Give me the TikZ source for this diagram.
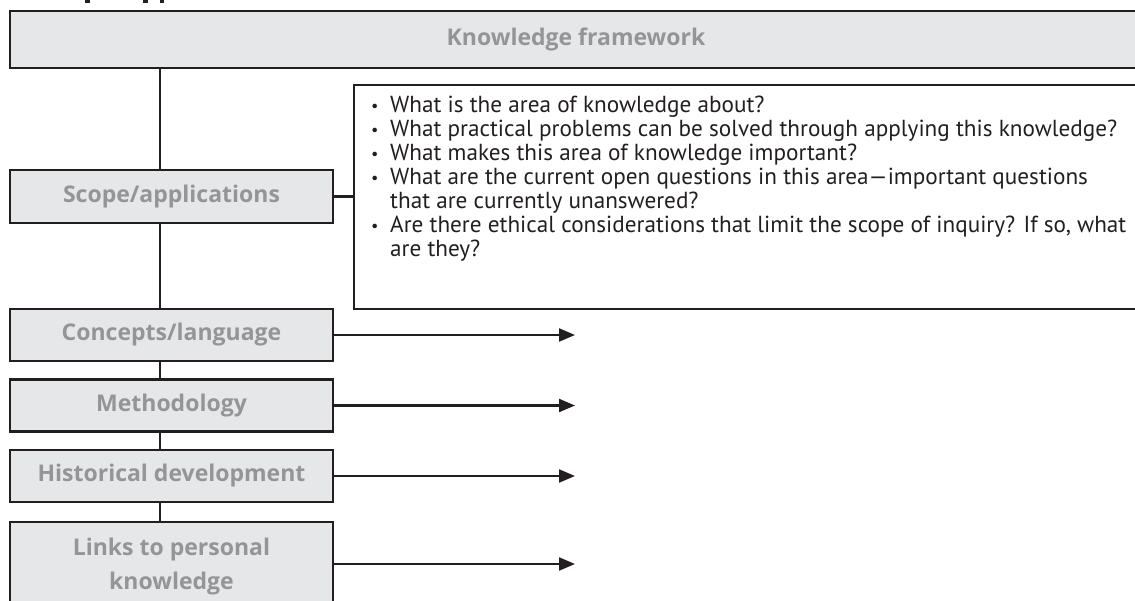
\documentclass[tikz,border=0pt]{standalone}
\usepackage{fontspec}
\setmainfont{PT Sans}
\newfontfamily\labelfont{Open Sans}
\usetikzlibrary{arrows.meta}
\definecolor{boxfill}{HTML}{E6E7E8}
\definecolor{labelgray}{HTML}{939598}
\definecolor{ink}{HTML}{231F20}
\tikzset{
  graybox/.style={draw=ink, line width=2.4pt, fill=boxfill, text=labelgray,
    font=\labelfont\fontsize{23}{34}\selectfont\bfseries, align=center, inner sep=0pt},
  lowbox/.style={graybox, minimum width=323pt, minimum height=52pt},
  link/.style={draw=ink, line width=2.4pt},
  arrowline/.style={draw=ink, line width=2.2pt, -{Triangle[length=16pt,width=13pt]}},
  qframe/.style={draw=ink, line width=2.4pt, fill=white, inner sep=0pt}
}
\newcommand{\qb}{\makebox[19pt][l]{\raisebox{1pt}{\scalebox{0.7}{•}}}}
\begin{document}
\begin{tikzpicture}[x=1pt,y=-1pt]
\useasboundingbox (0,0) rectangle (1135,601);
\clip (0,0) rectangle (1135,601);

% cropped title descenders
\fill[ink] (85,0) rectangle (89.5,3);
\fill[ink] (143,0) rectangle (147.5,3);
\fill[ink] (159.5,0) rectangle (164,3);

\coordinate (spine) at (160,0);

\node[graybox, minimum width=1132pt, minimum height=57pt] (kf) at (576,39.5) {Knowledge framework};

\node[lowbox, minimum height=53pt] (scope) at (171.5,196.5) {Scope/applications};
\node[lowbox] (concepts) at (171.5,335) {Concepts/language};
\node[lowbox] (method) at (171.5,405.5) {Methodology};
\node[lowbox] (hist) at (171.5,476) {Historical development};
\node[lowbox, minimum height=90pt] (links) at (171.5,567) {Links to personal\\knowledge};

\node[qframe, minimum width=800pt, minimum height=224pt, anchor=north west] (qbox) at (353,84) {};
\node[anchor=north west, align=left, inner sep=0pt, text=ink,
      font=\fontsize{23.2}{23.9}\selectfont] (qtext) at (371,96) {%
\qb What is the area of knowledge about?\\
\qb What practical problems can be solved through applying this knowledge?\\
\qb What makes this area of knowledge important?\\
\qb What are the current open questions in this area—important questions\\
\hspace*{19pt}that are currently unanswered?\\
\qb Are there ethical considerations that limit the scope of inquiry? If so, what\\
\hspace*{19pt}are they?};

% spine
\draw[link] (kf.south -| spine) -- (scope.north -| spine);
\draw[link] (scope.south -| spine) -- (concepts.north -| spine);
\draw[link] (concepts.south -| spine) -- (method.north -| spine);
\draw[link] (method.south -| spine) -- (hist.north -| spine);
\draw[link] (hist.south -| spine) -- (links.north -| spine);
\draw[link] (scope.east) -- (scope.east -| qbox.west);

% arrows
\coordinate (e1) at (575,335);
\coordinate (e2) at (575,405.5);
\coordinate (e3) at (575,476);
\coordinate (e4) at (575,564);
\draw[arrowline] (concepts.east) -- (e1);
\draw[arrowline] (method.east) -- (e2);
\draw[arrowline] (hist.east) -- (e3);
\draw[arrowline] (links.east |- e4) -- (e4);
\end{tikzpicture}
\end{document}
